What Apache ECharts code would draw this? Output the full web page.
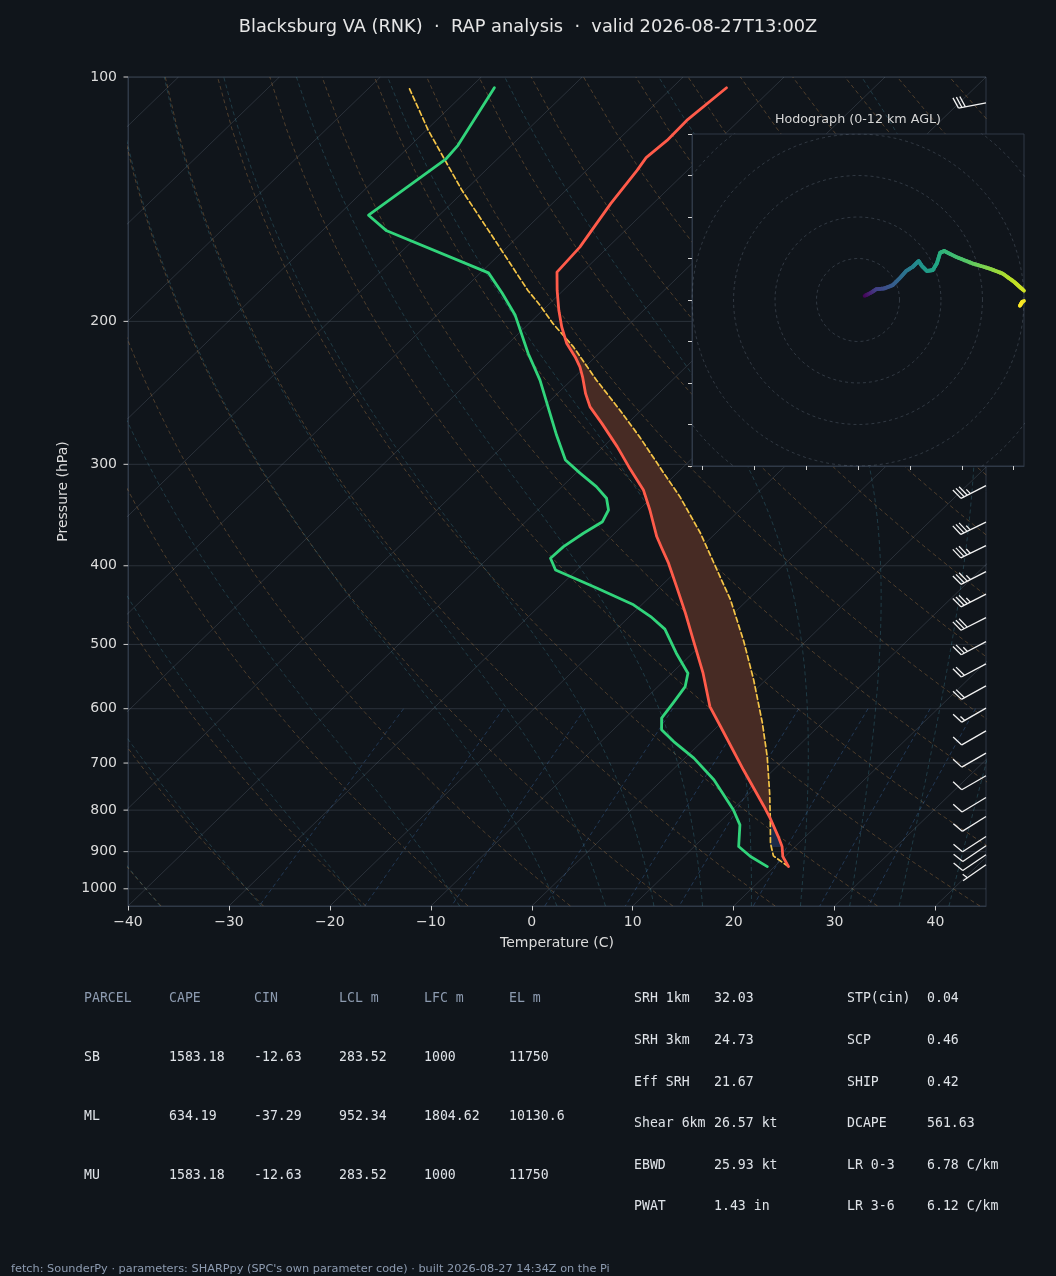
<!DOCTYPE html>
<html>
<head>
<meta charset="utf-8">
<title>Skew-T Blacksburg</title>
<script src="https://cdn.jsdelivr.net/npm/echarts@6.0.0/dist/echarts.min.js"></script>
<style>
html,body{margin:0;padding:0;background:#10151b;}
#chart{width:1056px;height:1276px;}
</style>
</head>
<body>
<div id="chart"></div>
<script>
// ---------------- texts ----------------
const titleText = 'Blacksburg VA (RNK)  \u00b7  RAP analysis  \u00b7  valid 2026-08-27T13:00Z';
const footerText = "fetch: SounderPy \u00b7 parameters: SHARPpy (SPC's own parameter code) \u00b7 built 2026-08-27 14:34Z on the Pi";
const hodoTitle = 'Hodograph (0-12 km AGL)';

// ---------------- axis ticks ----------------
const tempTicks = [-40, -30, -20, -10, 0, 10, 20, 30, 40];
const pressureTicks = [100, 200, 300, 400, 500, 600, 700, 800, 900, 1000];
const hodoXTicks = [-37.5, -25, -12.5, 0, 12.5, 25, 37.5];
const hodoRings = [10, 20, 30, 40, 50];

// ---------------- environmental temperature (hPa, degC) ----------------
const tempP = [103.1,113.1,119.7,125.7,130.3,143.2,162.0,173.9,183.2,193.8,203.2,213.0,221.2,227.6,234.2,245.5,254.9,267.3,285.5,302.2,322.6,341.5,368.2,380.6,397.1,424.4,457.6,493.5,542.5,596.4,631.1,713.5,791.7,818.3,862.3,887.0,912.6,939.0];
const tempC = [-64.6,-65.2,-65.1,-65.4,-65.0,-64.2,-62.8,-62.5,-60.6,-58.4,-56.4,-54.2,-52.0,-50.5,-49.2,-47.2,-45.4,-42.5,-38.6,-35.4,-31.6,-28.9,-25.5,-23.8,-21.6,-18.4,-14.8,-11.3,-6.9,-2.8,0.3,7.0,12.8,14.6,17.3,18.7,19.8,21.4];

// ---------------- dewpoint ----------------
const dewP = [103.1,121.4,126.1,148.0,154.7,174.3,184.5,196.6,219.1,236.3,276.3,296.3,307.6,319.6,330.3,341.5,353.0,364.8,378.9,391.6,404.8,426.3,446.9,462.0,478.8,512.6,542.5,563.5,590.7,616.3,637.1,658.6,690.3,734.0,799.2,834.1,887.0,912.6,939.0];
const dewC = [-87.6,-85.3,-85.1,-87.0,-83.6,-69.2,-65.8,-62.2,-57.0,-53.1,-45.8,-42.4,-39.6,-36.6,-34.4,-33.0,-32.4,-33.1,-33.7,-33.8,-32.1,-26.1,-20.8,-17.9,-15.2,-11.6,-8.4,-7.3,-6.8,-6.4,-5.2,-2.8,0.9,5.1,10.1,12.3,14.4,16.6,19.3];

// ---------------- surface parcel ----------------
const parcelP = [103.4,116.3,137.9,158.9,183.2,191.0,201.3,215.0,236.3,257.3,277.6,307.6,328.8,364.8,397.1,440.6,496.0,552.9,625.1,687.2,762.5,822.4,878.5,910.9,939.0];
const parcelC = [-95.9,-89.8,-80.3,-71.9,-63.5,-60.8,-57.6,-53.2,-47.5,-42.1,-37.4,-31.3,-27.3,-21.5,-17.1,-11.7,-6.1,-1.2,4.1,8.0,12.0,14.8,17.2,18.8,21.4];
const cinBottomP = 888;

// ---------------- wind barbs ----------------
const barbP   = [107.6,318.7,353.5,377.8,406.7,433.6,463.3,496.0,528.3,562.3,599.1,639.0,680.6,725.6,771.9,814.6,862.3,885.2,908.0,934.1];
const barbKt  = [30,35,35,35,35,35,30,25,20,20,15,10,10,10,10,10,10,10,10,5];
const barbDir = [259,243,244,244,243,243,243,242,242,241,240,240,240,240,239,238,237,236,236,235];

// ---------------- hodograph (kt, km AGL) ----------------
const hodoU = [1.6,3.2,4.4,6.4,8.4,10.0,11.6,13.2,14.6,15.4,16.6,18.0,19.0,19.8,20.8,23.6,27.6,31.6,34.8,37.6,39.6,42.0,39.6,39.0];
const hodoV = [1.0,1.8,2.6,2.8,3.6,5.2,7.0,8.0,9.4,8.2,7.0,7.2,8.8,11.4,11.8,10.4,8.8,7.6,6.4,4.4,2.6,0.5,-0.4,-1.4];
const hodoZ = [0,1.2,2.2,2.8,3.4,4.0,4.6,5.2,5.8,6.1,6.5,6.8,7.1,7.5,7.8,8.3,9.0,9.8,10.3,10.8,11.1,11.5,11.8,12.0];

// ---------------- tables ----------------
const parcelHeader = ['PARCEL','CAPE','CIN','LCL m','LFC m','EL m'];
const parcelRows = [
  ['SB','1583.18','-12.63','283.52','1000','11750'],
  ['ML','634.19','-37.29','952.34','1804.62','10130.6'],
  ['MU','1583.18','-12.63','283.52','1000','11750']
];
const kinLabels = ['SRH 1km','SRH 3km','Eff SRH','Shear 6km','EBWD','PWAT'];
const kinValues = ['32.03','24.73','21.67','26.57 kt','25.93 kt','1.43 in'];
const compLabels = ['STP(cin)','SCP','SHIP','DCAPE','LR 0-3','LR 3-6'];
const compValues = ['0.04','0.46','0.42','561.63','6.78 C/km','6.12 C/km'];

// ---------------- diagram geometry ----------------
const X_MIN = -40, X_MAX = 45, P_BOT = 1050, P_TOP = 100;
const SKEW = X_MAX - X_MIN;           // 45 degree skew
const LOGSPAN = Math.log10(P_BOT / P_TOP);
function skewX(T, p) { return T + SKEW * Math.log10(P_BOT / p) / LOGSPAN; }

const BG = '#10151b';
const GRIDC = 'rgba(150,165,185,0.20)';
const SPINE = '#2f3947';
const TICKC = '#d0d0d0';
const LABELC = '#dcdcdc';
const DRYC = 'rgba(190,135,75,0.36)';
const MOISTC = 'rgba(70,150,170,0.30)';
const MIXC = 'rgba(70,130,205,0.32)';
const RED = '#ff5b4a', GREEN = '#31d47b', YELLOW = '#f4c447';
const CAPE_FILL = '#472b24', CIN_FILL = '#1c2b48';
const VIRIDIS = ['#440154','#482475','#414487','#355f8d','#2a788e','#21918c','#22a884','#44bf70','#7ad151','#bddf26','#fde725'];

const series = [];
function bgLine(data, color, type, width, z) {
  return { type: 'line', xAxisIndex: 0, yAxisIndex: 0, data, symbol: 'none', showSymbol: false,
    silent: true, animation: false, lineStyle: { color, width, type }, z: z || 1, emphasis: { disabled: true } };
}

// isobars
pressureTicks.forEach(p => series.push(bgLine([[X_MIN, p], [X_MAX, p]], GRIDC, 'solid', 1, 1)));
// isotherms
for (let T = -120; T <= 40; T += 10) series.push(bgLine([[T, P_BOT], [T + SKEW, P_TOP]], GRIDC, 'solid', 1, 1));
// dry adiabats
const presLin = []; for (let k = 0; k <= 60; k++) presLin.push(P_BOT - (P_BOT - P_TOP) * k / 60);
for (let t0 = -40; t0 <= 240; t0 += 10) {
  const th = t0 + 273.15;
  series.push(bgLine(presLin.map(p => [skewX(th * Math.pow(p / 1000, 0.2857) - 273.15, p), p]), DRYC, [4, 3], 1, 1));
}
// moist adiabats
function moistRate(p, T) {
  const Rd = 287.04749, Cp = 1005.7, Lv = 2.50084e6, eps = 0.6219569;
  const Tc = T - 273.15, es = 6.112 * Math.exp(17.67 * Tc / (Tc + 243.5));
  const rs = eps * es / (p - es);
  return (Rd * T + Lv * rs) / (Cp + (Lv * Lv * rs * eps) / (Rd * T * T)) / p;
}
function integrate(T, p, pEnd, h) {
  const out = [];
  let step = 0;
  while ((h < 0 && p > pEnd) || (h > 0 && p < pEnd)) {
    const hh = h < 0 ? Math.max(h, pEnd - p) : Math.min(h, pEnd - p);
    const k1 = moistRate(p, T), k2 = moistRate(p + hh / 2, T + hh / 2 * k1);
    const k3 = moistRate(p + hh / 2, T + hh / 2 * k2), k4 = moistRate(p + hh, T + hh * k3);
    T += hh / 6 * (k1 + 2 * k2 + 2 * k3 + k4); p += hh; step++;
    if (step % 5 === 0 || Math.abs(p - pEnd) < 1e-6) out.push([T, p]);
  }
  return out;
}
const moistStarts = [-40, -30, -20, -10, 0, 5, 10, 15, 20, 25, 30, 35, 40, 45];
moistStarts.forEach(t0 => {
  const T0 = t0 + 273.15;
  const down = integrate(T0, 1000, P_BOT, 2).reverse();
  const up = integrate(T0, 1000, P_TOP, -2);
  const pts = down.concat([[T0, 1000]], up);
  series.push(bgLine(pts.map(([T, p]) => [skewX(T - 273.15, p), p]), MOISTC, [4, 3], 1, 1));
});
// mixing-ratio lines
const mixRatios = [0.0004, 0.001, 0.002, 0.004, 0.007, 0.01, 0.016, 0.024, 0.032];
function dewFromW(w, p) { const e = p * w / (0.622 + w); const l = Math.log(e / 6.112); return 243.5 * l / (17.67 - l); }
mixRatios.forEach(w => {
  const pts = []; for (let k = 0; k <= 12; k++) { const p = 600 + (P_BOT - 600) * k / 12; pts.push([skewX(dewFromW(w, p), p), p]); }
  series.push(bgLine(pts, MIXC, [4, 3], 1, 1));
});

// ---------------- CAPE / CIN shading ----------------
function makeInterp(P, C) {
  const pts = P.map((p, i) => ({ lp: Math.log10(p), x: skewX(C[i], p) })).sort((a, b) => b.lp - a.lp);
  return function (p) {
    const lp = Math.log10(p);
    if (lp >= pts[0].lp) return pts[0].x;
    for (let i = 1; i < pts.length; i++) {
      if (lp >= pts[i].lp) { const a = pts[i - 1], b = pts[i]; const t = (lp - a.lp) / (b.lp - a.lp); return a.x + t * (b.x - a.x); }
    }
    return pts[pts.length - 1].x;
  };
}
const tInterp = makeInterp(tempP, tempC), pInterp = makeInterp(parcelP, parcelC);
const pHi = Math.min(Math.max(...tempP), Math.max(...parcelP));
const pLo = Math.max(Math.min(...tempP), Math.min(...parcelP));
const levels = [];
for (let k = 0; k <= 1500; k++) { const p = pHi * Math.pow(pLo / pHi, k / 1500); levels.push({ p, tx: tInterp(p), px: pInterp(p) }); }
function runs(pred) {
  const out = []; let cur = null;
  levels.forEach(l => { if (pred(l)) { if (!cur) { cur = []; out.push(cur); } cur.push(l); } else cur = null; });
  return out.filter(r => r.length > 2);
}
const capeRuns = runs(l => l.px > l.tx);
const mainCape = capeRuns.reduce((a, b) => (b.length > a.length ? b : a), []);
const lfcP = mainCape.length ? mainCape[0].p : pHi;
const cinRuns = runs(l => l.px < l.tx && l.p <= cinBottomP && l.p >= lfcP);
function runPoly(r) { return r.map(l => [l.px, l.p]).concat(r.slice().reverse().map(l => [l.tx, l.p])); }
const shadePolys = capeRuns.map(r => ({ pts: runPoly(r), fill: CAPE_FILL })).concat(cinRuns.map(r => ({ pts: runPoly(r), fill: CIN_FILL })));
series.push({
  type: 'custom', xAxisIndex: 0, yAxisIndex: 0, data: [[0, 500]], silent: true, animation: false, z: 3,
  renderItem: (params, api) => ({
    type: 'group',
    children: shadePolys.map(sp => ({ type: 'polygon', shape: { points: sp.pts.map(pt => api.coord(pt)) }, style: { fill: sp.fill } }))
  })
});

// ---------------- profiles ----------------
function profLine(P, C, color, width, type, z) {
  return { type: 'line', xAxisIndex: 0, yAxisIndex: 0, data: P.map((p, i) => [skewX(C[i], p), p]),
    symbol: 'none', showSymbol: false, silent: true, animation: false, z,
    lineStyle: { color, width, type, cap: 'round', join: 'round' } };
}
series.push(profLine(parcelP, parcelC, YELLOW, 1.7, [5, 3], 5));
series.push(profLine(dewP, dewC, GREEN, 2.8, 'solid', 6));
series.push(profLine(tempP, tempC, RED, 2.8, 'solid', 6));

// ---------------- pressure-axis ticks and labels (placed through the log axis) ----------------
series.push({
  type: 'custom', xAxisIndex: 0, yAxisIndex: 0, silent: true, animation: false, z: 8, clip: false,
  data: pressureTicks.map(p => [X_MIN, p]),
  encode: { x: 0, y: 1 },
  renderItem: (params, api) => {
    const pt = api.coord([api.value(0), api.value(1)]);
    return { type: 'group', children: [
      { type: 'line', shape: { x1: pt[0] - 4.5, y1: pt[1], x2: pt[0], y2: pt[1] }, style: { stroke: TICKC, lineWidth: 1 } },
      { type: 'text', x: pt[0] - 11, y: pt[1], style: { text: String(api.value(1)), font: '14px "DejaVu Sans"', fill: LABELC,
        textAlign: 'right', textVerticalAlign: 'middle', align: 'right', verticalAlign: 'middle' } }
    ] };
  }
});

// ---------------- wind barbs ----------------
series.push({
  type: 'custom', xAxisIndex: 0, yAxisIndex: 0, silent: true, animation: false, z: 7, clip: false,
  data: barbP.map((p, i) => [X_MAX, p, barbKt[i], barbDir[i]]),
  encode: { x: 0, y: 1 },
  renderItem: (params, api) => {
    const tip = api.coord([api.value(0), api.value(1)]);
    const spd = api.value(2), d = api.value(3) * Math.PI / 180;
    const s = [Math.sin(d), -Math.cos(d)], n = [-s[1], s[0]];
    const L = 28, SP = 3.5, H = 11.2, W2 = 3.5;
    const pt = off => [tip[0] + off * s[0], tip[1] + off * s[1]];
    const segs = [[tip, pt(L)]];
    const r = Math.round(spd / 5) * 5;
    const nFull = Math.floor(r / 10), half = r % 10 === 5;
    let off = L;
    for (let i = 0; i < nFull; i++) {
      const b = pt(off); segs.push([b, [b[0] + H * n[0] + W2 * s[0], b[1] + H * n[1] + W2 * s[1]]]); off -= SP;
    }
    if (half) {
      if (nFull === 0) off -= 1.5 * SP;
      const b = pt(off); segs.push([b, [b[0] + H / 2 * n[0] + W2 / 2 * s[0], b[1] + H / 2 * n[1] + W2 / 2 * s[1]]]);
    }
    return { type: 'group', children: segs.map(g => ({ type: 'line', shape: { x1: g[0][0], y1: g[0][1], x2: g[1][0], y2: g[1][1] },
      style: { stroke: '#f2f2f2', lineWidth: 1.3, lineCap: 'butt' } })) };
  }
});

// ---------------- hodograph ----------------
const HODO_LIM = 40, HODO_ZMAX = 12;
function hexToRgb(h) { return [parseInt(h.slice(1, 3), 16), parseInt(h.slice(3, 5), 16), parseInt(h.slice(5, 7), 16)]; }
function viridis(t) {
  t = Math.max(0, Math.min(1, t)); const f = t * (VIRIDIS.length - 1); const i = Math.min(Math.floor(f), VIRIDIS.length - 2); const u = f - i;
  const a = hexToRgb(VIRIDIS[i]), b = hexToRgb(VIRIDIS[i + 1]);
  return 'rgb(' + a.map((v, k) => Math.round(v + (b[k] - v) * u)).join(',') + ')';
}
function clipSeg(a, b, lo, hi) {
  let t0 = 0, t1 = 1; const dx = b[0] - a[0], dy = b[1] - a[1];
  const P = [-dx, dx, -dy, dy], Q = [a[0] - lo, hi - a[0], a[1] - lo, hi - a[1]];
  for (let k = 0; k < 4; k++) {
    if (P[k] === 0) { if (Q[k] < 0) return null; }
    else { const r = Q[k] / P[k]; if (P[k] < 0) { if (r > t1) return null; if (r > t0) t0 = r; } else { if (r < t0) return null; if (r < t1) t1 = r; } }
  }
  return [[a[0] + t0 * dx, a[1] + t0 * dy], [a[0] + t1 * dx, a[1] + t1 * dy]];
}
hodoRings.forEach((r, idx) => {
  const pts = []; for (let a = 0; a <= 360; a += 4) pts.push([r * Math.cos(a * Math.PI / 180), r * Math.sin(a * Math.PI / 180)]);
  const sObj = { type: 'line', xAxisIndex: 1, yAxisIndex: 1, data: pts, symbol: 'none', showSymbol: false, silent: true, animation: false, z: 12,
    lineStyle: { color: 'rgba(150,165,185,0.28)', width: 0.9, type: [3, 3] } };
  if (idx === 0) {
    sObj.markLine = { silent: true, symbol: 'none', animation: false, label: { show: false },
      lineStyle: { color: 'rgba(150,165,185,0.28)', width: 0.9, type: [3, 3] }, data: [{ xAxis: 0 }, { yAxis: 0 }] };
  }
  series.push(sObj);
});
series.push({
  type: 'custom', xAxisIndex: 1, yAxisIndex: 1, silent: true, animation: false, z: 14,
  data: hodoU.map((u, i) => [u, hodoV[i], hodoZ[i]]),
  encode: { x: 0, y: 1 },
  renderItem: (params, api) => {
    const i = params.dataIndex; if (i === 0) return null;
    const u0 = hodoU[i - 1], v0 = hodoV[i - 1], z0 = hodoZ[i - 1];
    const u1 = api.value(0), v1 = api.value(1), z1 = api.value(2);
    const SUB = 6, children = [];
    for (let s = 0; s < SUB; s++) {
      const ta = s / SUB, tb = (s + 1) / SUB;
      const a = [u0 + (u1 - u0) * ta, v0 + (v1 - v0) * ta], b = [u0 + (u1 - u0) * tb, v0 + (v1 - v0) * tb];
      const c = clipSeg(a, b, -HODO_LIM, HODO_LIM); if (!c) continue;
      const p0 = api.coord(c[0]), p1 = api.coord(c[1]);
      const zz = z0 + (z1 - z0) * (ta + tb) / 2;
      children.push({ type: 'line', shape: { x1: p0[0], y1: p0[1], x2: p1[0], y2: p1[1] }, style: { stroke: viridis(zz / HODO_ZMAX), lineWidth: 3.8, lineCap: 'round' } });
    }
    return { type: 'group', children };
  }
});

// ---------------- text graphics ----------------
const graphics = [];
function txt(text, x, y, font, fill, align, vAlign, rotation) {
  const el = { type: 'text', x, y, silent: true, z: 50,
    style: { text, font, fill, textAlign: align || 'left', textVerticalAlign: vAlign || 'middle', align: align || 'left', verticalAlign: vAlign || 'middle' } };
  if (rotation) el.rotation = rotation;
  graphics.push(el);
}
txt(titleText, 528, 27, '17.8px "DejaVu Sans"', '#e6e6e6', 'center', 'middle');
txt('Pressure (hPa)', 63, 491.5, '14px "DejaVu Sans"', LABELC, 'center', 'middle', Math.PI / 2);
txt('Temperature (C)', 557, 943, '14px "DejaVu Sans"', LABELC, 'center', 'middle');
txt(hodoTitle, 858, 120, '12.7px "DejaVu Sans"', '#d6d6d6', 'center', 'middle');
const MONO = '13.2px "DejaVu Sans Mono"';
const colX = [84, 169, 254, 339, 424, 509];
parcelHeader.forEach((h, j) => txt(h, colX[j], 999, MONO, '#8d9bb0', 'left', 'middle'));
const rowY = [1058, 1117, 1176];
parcelRows.forEach((row, i) => row.forEach((v, j) => txt(v, colX[j], rowY[i], MONO, '#dfe3e8', 'left', 'middle')));
const rY = [999, 1041, 1083, 1124, 1166, 1207];
kinLabels.forEach((l, i) => { txt(l, 634, rY[i], MONO, '#dfe3e8'); txt(kinValues[i], 714, rY[i], MONO, '#dfe3e8'); });
compLabels.forEach((l, i) => { txt(l, 847, rY[i], MONO, '#dfe3e8'); txt(compValues[i], 927, rY[i], MONO, '#dfe3e8'); });
txt(footerText, 11, 1269, '11.3px "DejaVu Sans"', '#8d9bb0', 'left', 'middle');

// ---------------- option ----------------
const fmtMinus = v => (v < 0 ? '\u2212' + Math.abs(v) : String(v));
const option = {
  backgroundColor: BG,
  animation: false,
  grid: [
    { left: 128, top: 77, width: 858, height: 829, show: true, borderColor: SPINE, borderWidth: 1, backgroundColor: 'transparent', containLabel: false, outerBoundsMode: 'none' },
    { left: 692, top: 134, width: 332, height: 332, show: true, borderColor: SPINE, borderWidth: 1, backgroundColor: BG, z: 10, containLabel: false, outerBoundsMode: 'none' }
  ],
  xAxis: [
    { gridIndex: 0, type: 'value', min: X_MIN, max: X_MAX,
      axisLine: { show: true, onZero: false, lineStyle: { color: SPINE } },
      axisTick: { show: true, inside: false, length: 4.5, customValues: tempTicks, lineStyle: { color: TICKC } },
      axisLabel: { show: true, color: LABELC, fontSize: 14, fontFamily: 'DejaVu Sans', margin: 9, customValues: tempTicks, formatter: fmtMinus },
      splitLine: { show: false } },
    { gridIndex: 1, type: 'value', min: -HODO_LIM, max: HODO_LIM, z: 12,
      axisLine: { show: true, onZero: false, lineStyle: { color: SPINE } },
      axisTick: { show: true, inside: false, length: 4, customValues: hodoXTicks, lineStyle: { color: TICKC } },
      axisLabel: { show: false }, splitLine: { show: false } }
  ],
  yAxis: [
    { gridIndex: 0, type: 'log', logBase: 10, min: P_BOT, max: P_TOP,
      axisLine: { show: true, onZero: false, lineStyle: { color: SPINE } },
      axisTick: { show: false }, axisLabel: { show: false },
      splitLine: { show: false }, minorTick: { show: false } },
    { gridIndex: 1, type: 'value', min: -HODO_LIM, max: HODO_LIM, interval: 10, z: 12,
      axisLine: { show: true, onZero: false, lineStyle: { color: SPINE } },
      axisTick: { show: true, inside: false, length: 4, lineStyle: { color: TICKC } },
      axisLabel: { show: false }, splitLine: { show: false } }
  ],
  series,
  graphic: { elements: graphics }
};
const chart = echarts.init(document.getElementById('chart'), null, { renderer: 'canvas', width: 1056, height: 1276 });
chart.setOption(option);
</script>
</body>
</html>
